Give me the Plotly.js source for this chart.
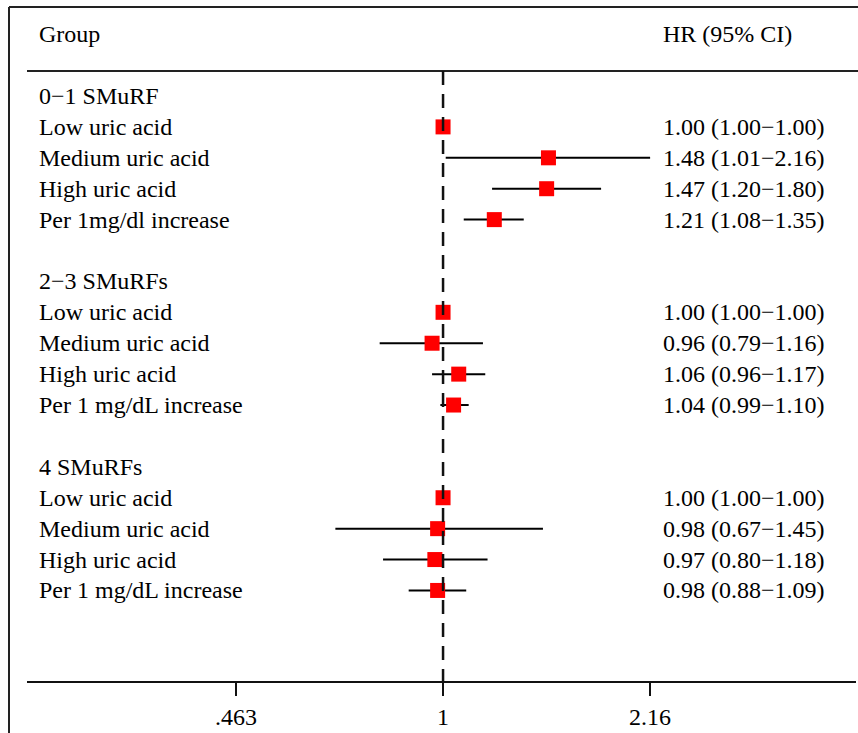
<!DOCTYPE html>
<html>
<head>
<meta charset="utf-8">
<script src="https://cdn.plot.ly/plotly-3.0.1.min.js"></script>
<style>html,body{margin:0;padding:0;background:#fff;}#chart{width:858px;height:733px;}</style>
</head>
<body>
<div id="chart"></div>
<script>
// ---- data ----
var groups = ["0\u22121 SMuRF", "2\u22123 SMuRFs", "4 SMuRFs"];
var itemLabels = [
  ["Low uric acid", "Medium uric acid", "High uric acid", "Per 1mg/dl increase"],
  ["Low uric acid", "Medium uric acid", "High uric acid", "Per 1 mg/dL increase"],
  ["Low uric acid", "Medium uric acid", "High uric acid", "Per 1 mg/dL increase"]
];
var hr = [
  [1.00, 1.48, 1.47, 1.21],
  [1.00, 0.96, 1.06, 1.04],
  [1.00, 0.98, 0.97, 0.98]
];
var lo = [
  [1.00, 1.01, 1.20, 1.08],
  [1.00, 0.79, 0.96, 0.99],
  [1.00, 0.67, 0.80, 0.88]
];
var hi = [
  [1.00, 2.16, 1.80, 1.35],
  [1.00, 1.16, 1.17, 1.10],
  [1.00, 1.45, 1.18, 1.09]
];
var tickVals = [0.463, 1, 2.16];
var tickText = [".463", "1", "2.16"];
var headerLeft = "Group";
var headerRight = "HR (95% CI)";

// ---- build ----
var FONT = {family: "Liberation Serif", size: 24, color: "#000"};
var xs = [], ys = [], ep = [], em = [];
var annotations = [];
var LX = (37 - 27) / 829, RX = (661 - 27) / 829;

annotations.push({xref: "paper", yref: "y", x: LX, y: -2, text: headerLeft, showarrow: false, xanchor: "left", yanchor: "middle", font: FONT});
annotations.push({xref: "paper", yref: "y", x: RX, y: -2, text: headerRight, showarrow: false, xanchor: "left", yanchor: "middle", font: FONT});

function f2(v) { return v.toFixed(2); }

for (var g = 0; g < groups.length; g++) {
  var base = g * 6;
  annotations.push({xref: "paper", yref: "y", x: LX, y: base, text: groups[g], showarrow: false, xanchor: "left", yanchor: "middle", font: FONT});
  for (var i = 0; i < itemLabels[g].length; i++) {
    var r = base + 1 + i;
    xs.push(hr[g][i]); ys.push(r);
    ep.push(hi[g][i] - hr[g][i]); em.push(hr[g][i] - lo[g][i]);
    annotations.push({xref: "paper", yref: "y", x: LX, y: r, text: itemLabels[g][i], showarrow: false, xanchor: "left", yanchor: "middle", font: FONT});
    annotations.push({xref: "paper", yref: "y", x: RX, y: r,
      text: f2(hr[g][i]) + " (" + f2(lo[g][i]) + "\u2212" + f2(hi[g][i]) + ")",
      showarrow: false, xanchor: "left", yanchor: "middle", font: FONT});
  }
}

var trace = {
  type: "scatter", mode: "markers", x: xs, y: ys,
  marker: {symbol: "square", size: 15, color: "#ff0000", line: {width: 0}},
  error_x: {type: "data", symmetric: false, array: ep, arrayminus: em, color: "#000", thickness: 2, width: 0},
  hoverinfo: "x+y", showlegend: false
};

var HEADER_Y = -0.81, AXIS_Y = 18.93;
var layout = {
  width: 858, height: 733,
  margin: {l: 27, r: 2, t: 7, b: 52, pad: 0},
  paper_bgcolor: "#fff", plot_bgcolor: "#fff",
  showlegend: false,
  xaxis: {
    type: "log", range: [-0.672, 0.667],
    tickvals: tickVals, ticktext: tickText,
    ticks: "outside", ticklen: 13, tickwidth: 2, tickcolor: "#111",
    showline: true, linewidth: 2, linecolor: "#111",
    showgrid: false, zeroline: false,
    tickfont: FONT, fixedrange: true
  },
  yaxis: {range: [AXIS_Y, -2.88], visible: false, showgrid: false, zeroline: false, fixedrange: true},
  annotations: annotations,
  shapes: [
    {type: "line", xref: "paper", yref: "paper", x0: (9 - 27) / 829, x1: 1.01, y0: 1, y1: 1, line: {color: "#222", width: 2}},
    {type: "line", xref: "paper", yref: "paper", x0: (9 - 27) / 829, x1: (9 - 27) / 829, y0: 1, y1: -0.1, line: {color: "#222", width: 2}},
    {type: "line", xref: "paper", yref: "y", x0: 0, x1: 1.01, y0: HEADER_Y, y1: HEADER_Y, line: {color: "#222", width: 2}},
    {type: "line", xref: "x", yref: "y", x0: 1, x1: 1, y0: HEADER_Y, y1: AXIS_Y, line: {color: "#111", width: 2.5, dash: "14px,9px"}}
  ]
};

Plotly.newPlot("chart", [trace], layout, {displayModeBar: false, staticPlot: true});
</script>
</body>
</html>
